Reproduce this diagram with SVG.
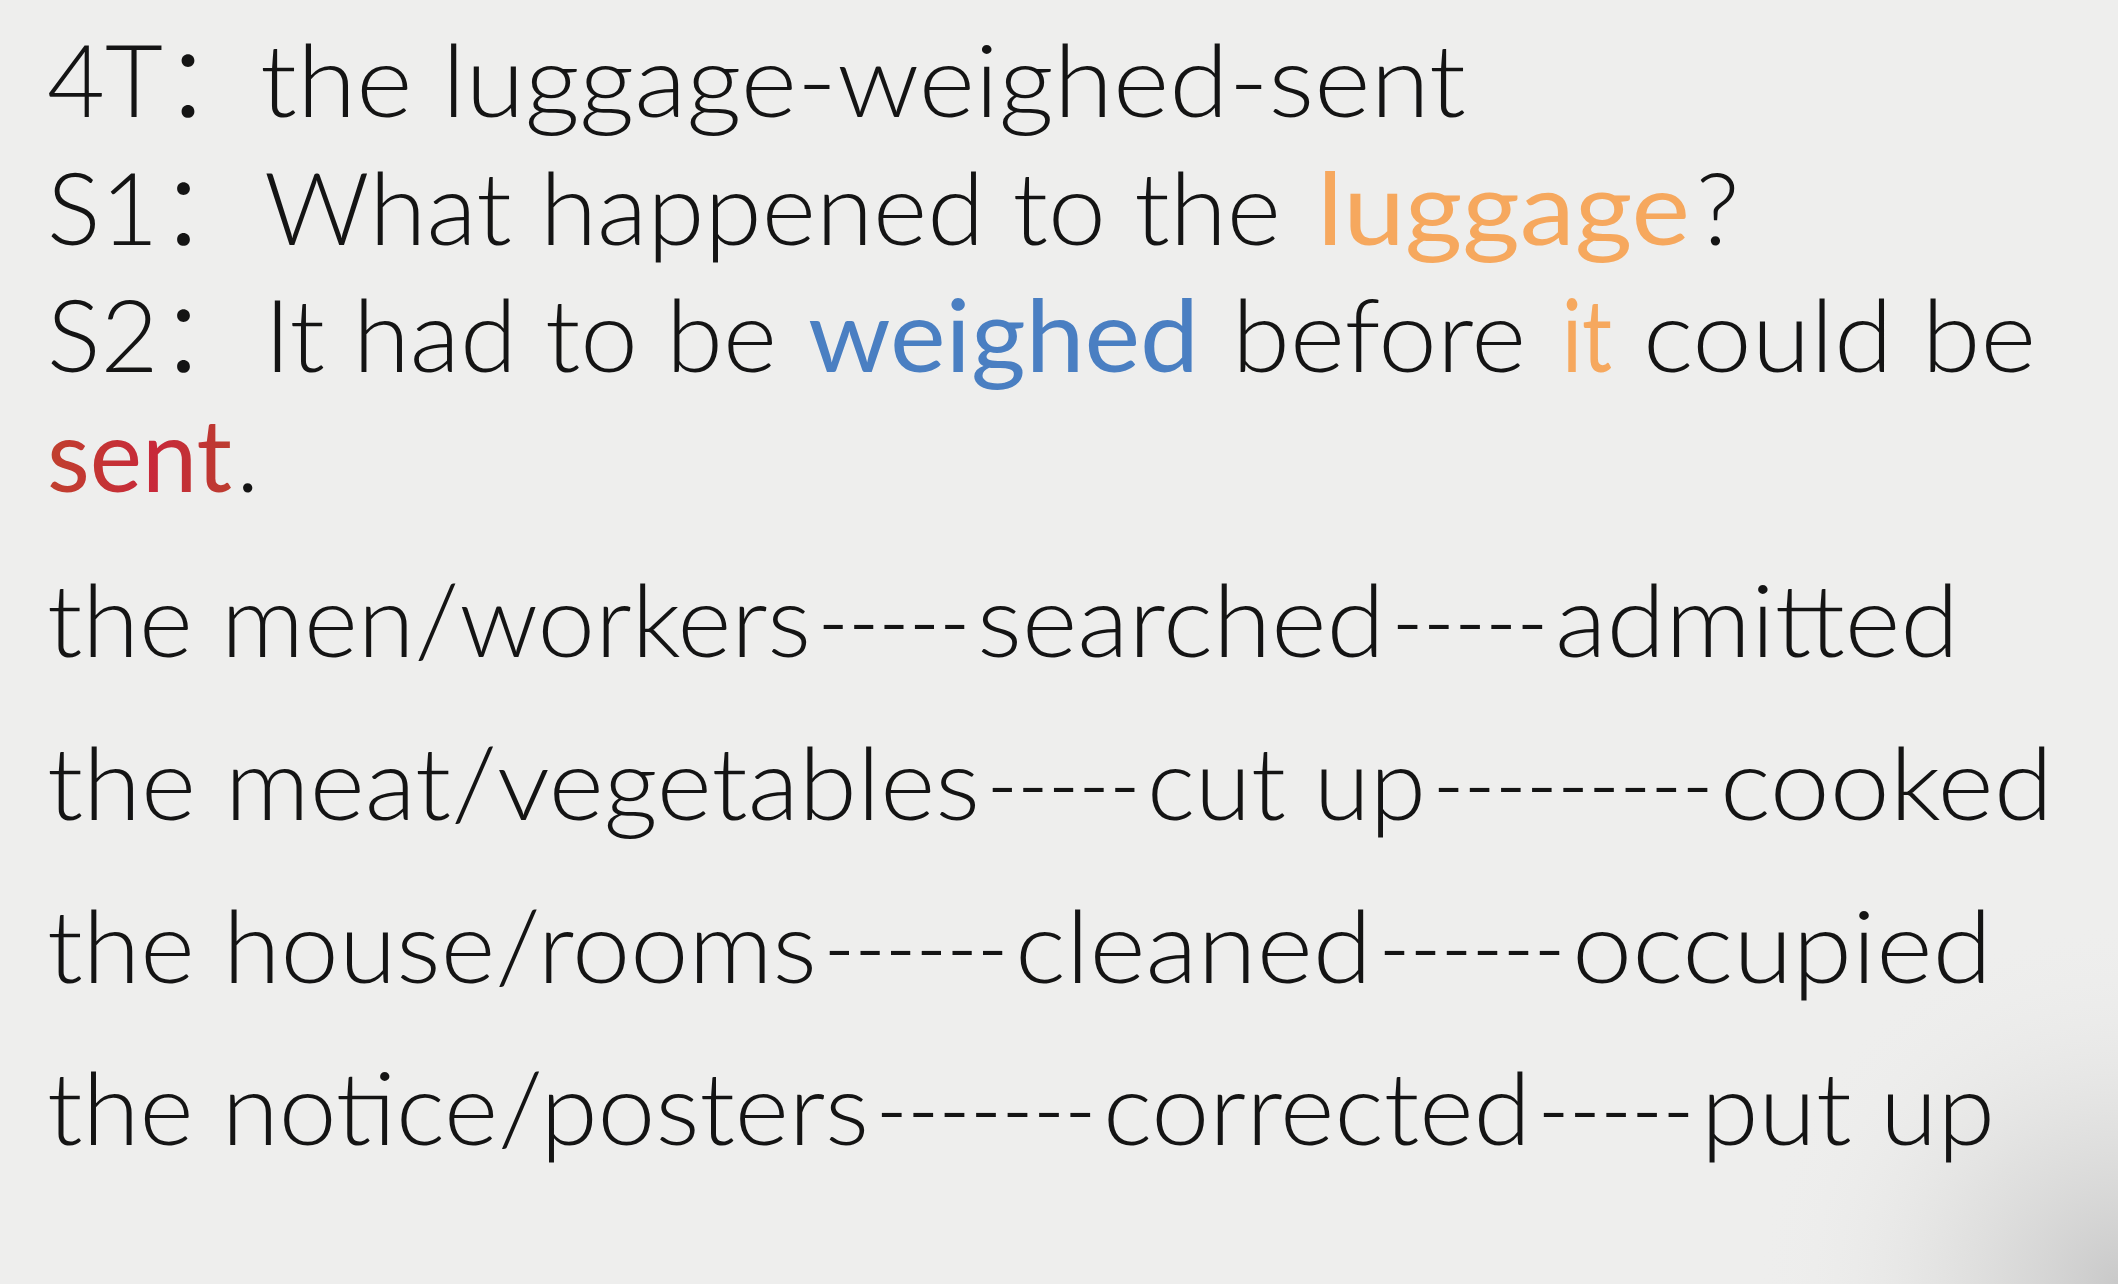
<svg xmlns="http://www.w3.org/2000/svg" width="2118" height="1284" viewBox="0 0 2118 1284">
<defs>
<radialGradient id="corner" cx="2118" cy="1284" r="360" gradientUnits="userSpaceOnUse">
<stop offset="0" stop-color="#c9c9c9" stop-opacity="1"/>
<stop offset="0.45" stop-color="#dcdcdb" stop-opacity="0.7"/>
<stop offset="1" stop-color="#eeeeed" stop-opacity="0"/>
</radialGradient>
<linearGradient id="sentGrad" x1="0" y1="0" x2="1" y2="0">
<stop offset="0" stop-color="#c0402e"/>
<stop offset="0.5" stop-color="#c8283a"/>
<stop offset="1" stop-color="#b8442c"/>
</linearGradient>
<style>
text{font-family:"Lato","Noto Sans CJK SC",sans-serif;font-size:100px;font-weight:300;fill:#141414}
.or{fill:#f6a85e;font-weight:400}
.bl{fill:#4a7fc2;font-weight:400}
.rd{fill:url(#sentGrad);font-weight:400}
</style>
</defs>
<rect x="0" y="0" width="2118" height="1284" fill="#eeeeed"/>
<rect x="0" y="0" width="2118" height="1284" fill="url(#corner)"/>
<g id="line-4t">
<text y="117"><tspan x="47">4T：</tspan><tspan x="260" textLength="1206" lengthAdjust="spacingAndGlyphs">the luggage-weighed-sent</tspan></text>
</g>
<g id="line-s1">
<text y="245"><tspan x="47">S1：</tspan><tspan x="264" textLength="1017" lengthAdjust="spacingAndGlyphs">What happened to the</tspan><tspan x="1317" class="or" textLength="373" lengthAdjust="spacingAndGlyphs">luggage</tspan><tspan x="1696">?</tspan></text>
</g>
<g id="line-s2">
<text y="372"><tspan x="47">S2：</tspan><tspan x="264" textLength="513" lengthAdjust="spacingAndGlyphs">It had to be</tspan><tspan x="808" class="bl" textLength="391" lengthAdjust="spacingAndGlyphs">weighed</tspan><tspan x="1232" textLength="294" lengthAdjust="spacingAndGlyphs">before</tspan><tspan x="1562" class="or" textLength="50" lengthAdjust="spacingAndGlyphs">it</tspan><tspan x="1643" textLength="393" lengthAdjust="spacingAndGlyphs">could be</tspan></text>
<text y="492"><tspan x="47" class="rd" textLength="185" lengthAdjust="spacingAndGlyphs">sent</tspan><tspan x="236">.</tspan></text>
</g>
<g id="line-men">
<text y="657"><tspan x="47" textLength="764" lengthAdjust="spacingAndGlyphs">the men/workers</tspan><tspan x="818" textLength="152" lengthAdjust="spacingAndGlyphs">-----</tspan><tspan x="977" textLength="408" lengthAdjust="spacingAndGlyphs">searched</tspan><tspan x="1392" textLength="156" lengthAdjust="spacingAndGlyphs">-----</tspan><tspan x="1555" textLength="404" lengthAdjust="spacingAndGlyphs">admitted</tspan></text>
</g>
<g id="line-meat">
<text y="820"><tspan x="47" textLength="933" lengthAdjust="spacingAndGlyphs">the meat/vegetables</tspan><tspan x="987" textLength="153" lengthAdjust="spacingAndGlyphs">-----</tspan><tspan x="1147" textLength="279" lengthAdjust="spacingAndGlyphs">cut up</tspan><tspan x="1433" textLength="280" lengthAdjust="spacingAndGlyphs">---------</tspan><tspan x="1720" textLength="333" lengthAdjust="spacingAndGlyphs">cooked</tspan></text>
</g>
<g id="line-house">
<text y="983"><tspan x="47" textLength="770" lengthAdjust="spacingAndGlyphs">the house/rooms</tspan><tspan x="824" textLength="184" lengthAdjust="spacingAndGlyphs">------</tspan><tspan x="1015" textLength="357" lengthAdjust="spacingAndGlyphs">cleaned</tspan><tspan x="1379" textLength="186" lengthAdjust="spacingAndGlyphs">------</tspan><tspan x="1572" textLength="420" lengthAdjust="spacingAndGlyphs">occupied</tspan></text>
</g>
<g id="line-notice">
<text y="1145"><tspan x="47" textLength="822" lengthAdjust="spacingAndGlyphs">the notice/posters</tspan><tspan x="876" textLength="220" lengthAdjust="spacingAndGlyphs">-------</tspan><tspan x="1103" textLength="428" lengthAdjust="spacingAndGlyphs">corrected</tspan><tspan x="1538" textLength="156" lengthAdjust="spacingAndGlyphs">-----</tspan><tspan x="1701" textLength="294" lengthAdjust="spacingAndGlyphs">put up</tspan></text>
</g>
</svg>
